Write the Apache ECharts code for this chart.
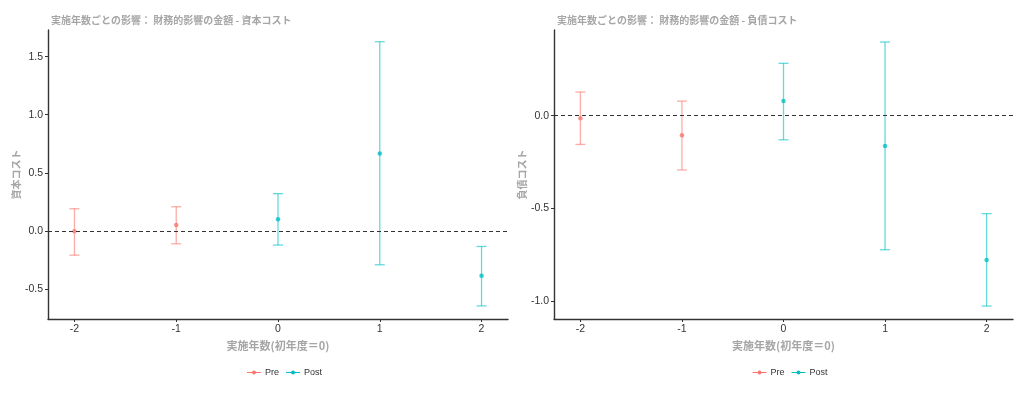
<!DOCTYPE html>
<html><head><meta charset="utf-8">
<script src="https://cdn.jsdelivr.net/npm/echarts@6/dist/echarts.min.js"></script>
<style>html,body{margin:0;padding:0;background:#fff}#c{width:1024px;height:397px}</style>
</head><body><div id="c"></div>
<script>
var years = [-2, -1, 0, 1, 2];
var groups = ['Pre', 'Pre', 'Post', 'Post', 'Post'];
var capEst  = [-0.005, 0.049, 0.10, 0.666, -0.388];
var capLow  = [-0.21, -0.112, -0.123, -0.293, -0.647];
var capHigh = [0.19, 0.207, 0.32, 1.629, -0.135];
var debtEst  = [-0.014, -0.106, 0.079, -0.164, -0.779];
var debtLow  = [-0.155, -0.293, -0.13, -0.724, -1.028];
var debtHigh = [0.128, 0.079, 0.283, 0.398, -0.529];
var capTicks = [-0.5, 0, 0.5, 1, 1.5];
var debtTicks = [-1, -0.5, 0];
var titles = ['実施年数ごとの影響： 財務的影響の金額 - 資本コスト', '実施年数ごとの影響： 財務的影響の金額 - 負債コスト'];
var yNames = ['資本コスト', '負債コスト'];
var xName = '実施年数(初年度＝0)';
var groupNames = ['Pre', 'Post'];

var colors = {Pre: '#F8766D', Post: '#00BFC4'};
var FONT = '"Noto Sans CJK JP", sans-serif';
var chart = echarts.init(document.getElementById('c'));

function fmt(v){ return v.toFixed(1); }

var grids = [
  {left: 48, top: 30, width: 460, height: 289},
  {left: 554, top: 30, width: 459, height: 289}
];
var yRanges = [[-0.76, 1.73], [-1.098, 0.463]];
var yTickSets = [capTicks, debtTicks];

var xAxes = [], yAxes = [], series = [], titleArr = [], legends = [];
var legendIcon = 'path://M0,4.4 H20 V5.6 H0 Z M10,2.2 A2.8,2.8 0 1 1 9.99,2.2 Z';

[0, 1].forEach(function(gi){
  var est = gi === 0 ? capEst : debtEst;
  var low = gi === 0 ? capLow : debtLow;
  var high = gi === 0 ? capHigh : debtHigh;
  xAxes.push({
    type: 'value', gridIndex: gi, min: -2.26, max: 2.26,
    name: xName, nameLocation: 'middle', nameGap: 16,
    nameTextStyle: {color: '#A6A6A6', fontSize: 11, fontWeight: 'bold', fontFamily: FONT},
    axisLine: {show: true, onZero: false, lineStyle: {color: '#333', width: 1.4}},
    axisTick: {show: true, length: 3, lineStyle: {color: '#333'}, customValues: years},
    axisLabel: {color: '#333', fontSize: 10.5, margin: 5, fontFamily: 'Liberation Sans, Arial', customValues: years,
      formatter: function(v){ return String(v); }},
    splitLine: {show: false}
  });
  yAxes.push({
    type: 'value', gridIndex: gi, min: yRanges[gi][0], max: yRanges[gi][1],
    name: yNames[gi], nameLocation: 'middle', nameGap: 27, nameRotate: 90,
    nameTextStyle: {color: '#A6A6A6', fontSize: 10, fontWeight: 'bold', fontFamily: FONT},
    axisLine: {show: true, onZero: false, lineStyle: {color: '#333', width: 1.4}},
    axisTick: {show: true, length: 3, lineStyle: {color: '#333'}, customValues: yTickSets[gi]},
    axisLabel: {color: '#333', fontSize: 10.5, margin: 5, fontFamily: 'Liberation Sans, Arial', customValues: yTickSets[gi],
      formatter: function(v){ return fmt(v); }},
    splitLine: {show: false}
  });
  titleArr.push({
    text: titles[gi], left: grids[gi].left - 2, top: 10,
    textStyle: {color: '#A6A6A6', fontSize: 10, fontWeight: 'bold', fontFamily: FONT}
  });
  legends.push({
    data: groupNames, left: grids[gi].left + grids[gi].width / 2 - 36, top: 363,
    icon: legendIcon, itemWidth: 14, itemHeight: 7, itemGap: 7,
    textStyle: {color: '#333', fontSize: 9, fontFamily: 'Liberation Sans, Arial', padding: [0, 0, 0, -1]}
  });
  series.push({
    type: 'line', name: 'zero' + gi, xAxisIndex: gi, yAxisIndex: gi, data: [], silent: true,
    markLine: {symbol: 'none', silent: true, label: {show: false},
      lineStyle: {color: '#333', type: [4, 3], width: 1},
      data: [{yAxis: 0}]}
  });
  groupNames.forEach(function(g){
    var ebData = [], ptData = [];
    years.forEach(function(y, i){
      if (groups[i] === g) {
        ebData.push([y, low[i], high[i]]);
        ptData.push([y, est[i]]);
      }
    });
    series.push({
      type: 'custom', name: g, xAxisIndex: gi, yAxisIndex: gi, data: ebData,
      itemStyle: {color: colors[g]},
      encode: {x: 0, y: [1, 2]},
      renderItem: function(params, api){
        var x = api.value(0);
        var p1 = api.coord([x, api.value(1)]);
        var p2 = api.coord([x, api.value(2)]);
        var hw = 5;
        var st = {stroke: colors[g], lineWidth: 1.3, opacity: 0.6};
        return {type: 'group', children: [
          {type: 'line', shape: {x1: p1[0], y1: p1[1], x2: p2[0], y2: p2[1]}, style: st},
          {type: 'line', shape: {x1: p1[0] - hw, y1: p1[1], x2: p1[0] + hw, y2: p1[1]}, style: st},
          {type: 'line', shape: {x1: p2[0] - hw, y1: p2[1], x2: p2[0] + hw, y2: p2[1]}, style: st}
        ]};
      }
    });
    series.push({
      type: 'scatter', name: g, xAxisIndex: gi, yAxisIndex: gi, data: ptData,
      symbol: 'circle', symbolSize: 4.5, itemStyle: {color: colors[g], opacity: 0.8}
    });
  });
});

chart.setOption({
  animation: false,
  backgroundColor: '#fff',
  title: titleArr,
  legend: legends,
  grid: grids,
  xAxis: xAxes,
  yAxis: yAxes,
  series: series
});
</script></body></html>
